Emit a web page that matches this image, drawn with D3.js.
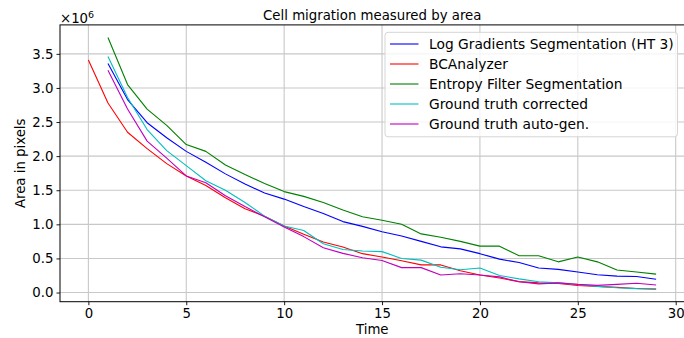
<!DOCTYPE html>
<html><head><meta charset="utf-8">
<script src="https://cdn.jsdelivr.net/npm/d3@7"></script>
<style>body{margin:0;background:#fff;} svg{display:block;font-family:"DejaVu Sans",sans-serif;}</style>
</head><body>
<svg id="c" width="684" height="338"></svg>
<script>
const title = "Cell migration measured by area";
const xLabel = "Time";
const yLabel = "Area in pixels";
const xTicks = [0, 5, 10, 15, 20, 25, 30];
const yTicks = [0, 0.5, 1.0, 1.5, 2.0, 2.5, 3.0, 3.5];
const timeFrom1 = d3.range(1, 30);
const timeFrom0 = d3.range(0, 30);
const seriesNames = ["Log Gradients Segmentation (HT 3)", "BCAnalyzer", "Entropy Filter Segmentation", "Ground truth corrected", "Ground truth auto-gen."];
const seriesColors = ["#0000ff", "#ff0000", "#008000", "#00bfbf", "#bf00bf"];
// values in units of 1e6 pixels
const logGradients = [3.36, 2.83, 2.49, 2.27, 2.07, 1.91, 1.74, 1.59, 1.46, 1.37, 1.26, 1.16, 1.04, 0.97, 0.89, 0.83, 0.75, 0.67, 0.64, 0.57, 0.49, 0.44, 0.36, 0.34, 0.30, 0.26, 0.24, 0.235, 0.195];
const bcAnalyzer = [3.41, 2.78, 2.35, 2.11, 1.89, 1.71, 1.57, 1.39, 1.23, 1.12, 0.975, 0.853, 0.74, 0.667, 0.57, 0.52, 0.465, 0.405, 0.405, 0.32, 0.257, 0.213, 0.16, 0.142, 0.132, 0.103, 0.09, 0.075, 0.06, 0.05];
const entropyFilter = [3.74, 3.05, 2.69, 2.45, 2.17, 2.07, 1.87, 1.73, 1.60, 1.48, 1.41, 1.32, 1.21, 1.11, 1.06, 1.00, 0.86, 0.81, 0.75, 0.68, 0.68, 0.54, 0.54, 0.45, 0.52, 0.45, 0.33, 0.30, 0.27];
const gtCorrected = [3.46, 2.86, 2.39, 2.08, 1.86, 1.64, 1.50, 1.32, 1.12, 0.975, 0.91, 0.716, 0.632, 0.61, 0.60, 0.50, 0.475, 0.37, 0.335, 0.36, 0.25, 0.20, 0.157, 0.142, 0.118, 0.09, 0.07, 0.057, 0.052];
const gtAutoGen = [3.26, 2.69, 2.22, 1.97, 1.71, 1.61, 1.42, 1.26, 1.11, 0.96, 0.82, 0.657, 0.574, 0.51, 0.47, 0.365, 0.365, 0.258, 0.275, 0.256, 0.23, 0.157, 0.127, 0.142, 0.12, 0.105, 0.12, 0.135, 0.11];

const series = [
  {name: seriesNames[0], color: seriesColors[0], x: timeFrom1, y: logGradients},
  {name: seriesNames[1], color: seriesColors[1], x: timeFrom0, y: bcAnalyzer},
  {name: seriesNames[2], color: seriesColors[2], x: timeFrom1, y: entropyFilter},
  {name: seriesNames[3], color: seriesColors[3], x: timeFrom1, y: gtCorrected},
  {name: seriesNames[4], color: seriesColors[4], x: timeFrom1, y: gtAutoGen}
];

const svg = d3.select("#c");
const L = 60, R = 684.5, T = 24.9, B = 301.7;
const allY = series.flatMap(s => s.y);
const yMin = d3.min(allY), yMax = d3.max(allY);
const yPad = (yMax - yMin) * 0.05;
const x = d3.scaleLinear().domain([-1.45, 30.45]).range([L, R]);
const y = d3.scaleLinear().domain([yMin - yPad, yMax + yPad]).range([B, T]);

// grid
const g = svg.append("g");
g.selectAll(".vg").data(xTicks).join("line")
  .attr("x1", d => x(d)).attr("x2", d => x(d)).attr("y1", T).attr("y2", B)
  .attr("stroke", "#c8c8c8").attr("stroke-width", 1.1);
g.selectAll(".hg").data(yTicks).join("line")
  .attr("x1", L).attr("x2", R).attr("y1", d => y(d)).attr("y2", d => y(d))
  .attr("stroke", "#c8c8c8").attr("stroke-width", 1.1);

// lines
const line = d3.line();
series.forEach(s => {
  svg.append("path")
    .attr("d", line(s.x.map((t, i) => [x(t), y(s.y[i])])))
    .attr("fill", "none").attr("stroke", s.color).attr("stroke-width", 1.1)
    .attr("stroke-linejoin", "round");
});

// axes
const xAxis = d3.axisBottom(x).tickValues(xTicks).tickSize(3.5).tickPadding(3).tickFormat(d3.format("d"));
const yAxis = d3.axisLeft(y).tickValues(yTicks).tickSize(3.5).tickPadding(3).tickFormat(d3.format(".1f"));
const ax = svg.append("g").attr("transform", `translate(0,${B})`).call(xAxis);
const ay = svg.append("g").attr("transform", `translate(${L},0)`).call(yAxis);
[ax, ay].forEach(a => {
  a.select(".domain").remove();
  a.selectAll("line").attr("stroke", "#000").attr("stroke-width", 0.9);
  a.selectAll("text").attr("font-size", 13.3).attr("fill", "#000").attr("font-family", "DejaVu Sans");
});
// spines
svg.append("rect").attr("x", L).attr("y", T).attr("width", R - L).attr("height", B - T)
  .attr("fill", "none").attr("stroke", "#000").attr("stroke-width", 1);

// offset text
const off = svg.append("text").attr("x", 60).attr("y", 22.5).attr("font-size", 13.3);
off.append("tspan").text("×10");
off.append("tspan").attr("dy", -5).attr("font-size", 9.5).text("6");

// title & labels
svg.append("text").attr("x", (L + R) / 2).attr("y", 19.5).attr("text-anchor", "middle").attr("font-size", 13.3).text(title);
svg.append("text").attr("x", (L + R) / 2).attr("y", 334).attr("text-anchor", "middle").attr("font-size", 13.3).text(xLabel);
svg.append("text").attr("transform", `translate(24.5,${(T + B) / 2}) rotate(-90)`).attr("text-anchor", "middle").attr("font-size", 13.3).text(yLabel);

// legend
const lg = svg.append("g");
lg.append("rect").attr("x", 385).attr("y", 32.3).attr("width", 292.5).attr("height", 104.5).attr("rx", 3)
  .attr("fill", "#fff").attr("fill-opacity", 0.8).attr("stroke", "#d5d5d5").attr("stroke-width", 1);
series.forEach((s, i) => {
  const cy = 44 + i * 20;
  lg.append("line").attr("x1", 390).attr("x2", 418.5).attr("y1", cy).attr("y2", cy)
    .attr("stroke", s.color).attr("stroke-width", 1.1);
  lg.append("text").attr("x", 429).attr("y", cy + 5).attr("font-size", 13.8).text(s.name);
});
</script>
</body></html>
